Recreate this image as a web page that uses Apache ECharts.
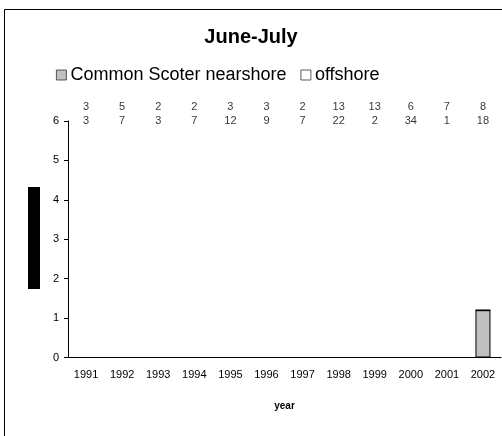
<!DOCTYPE html>
<html><head><meta charset="utf-8">
<script src="https://cdn.jsdelivr.net/npm/echarts@6/dist/echarts.min.js"></script>
<style>html,body{margin:0;padding:0;background:#fff}#c{width:502px;height:436px}</style>
</head><body><div id="c"></div>
<script>
const years = ['1991','1992','1993','1994','1995','1996','1997','1998','1999','2000','2001','2002'];
const nearshore = [0,0,0,0,0,0,0,0,0,0,0,1.2];
const offshore = [0,0,0,0,0,0,0,0,0,0,0,0];
const countsTop = [3,5,2,2,3,3,2,13,13,6,7,8];
const countsBottom = [3,7,3,7,12,9,7,22,2,34,1,18];
const yTicks = [0,1,2,3,4,5,6];

const font = 'Liberation Sans, Arial, sans-serif';
const chart = echarts.init(document.getElementById('c'));
const labelSeries = (arr, yPos) => ({
  type: 'scatter', symbolSize: 0, clip: false, silent: true,
  data: arr.map((v, i) => ({value: [i, yPos], label: {formatter: String(v)}})),
  label: {show: true, position: 'inside', color: '#000', fontSize: 11, fontFamily: font}
});
chart.setOption({
  animation: false,
  textStyle: {fontFamily: font},
  title: {text: 'June-July', left: 'center', top: 22, textStyle: {fontSize: 20, fontWeight: 'bold', color: '#000', fontFamily: font}},
  legend: {
    left: 51, top: 61, itemWidth: 10, itemHeight: 10, itemGap: 14, icon: 'rect',
    data: ['Common Scoter nearshore', 'offshore'],
    itemStyle: {borderWidth: 0.8, borderColor: '#333'},
    textStyle: {fontSize: 18, color: '#000', fontFamily: font, padding: [0,0,0,-1]}
  },
  grid: {left: 68, right: 1, top: 121, bottom: 78.5, containLabel: false},
  xAxis: {
    type: 'category', data: years, boundaryGap: true,
    name: 'year', nameLocation: 'middle', nameGap: 44,
    nameTextStyle: {fontSize: 10, fontWeight: 'bold', color: '#000', fontFamily: font},
    axisLine: {lineStyle: {color: '#000'}},
    axisTick: {alignWithLabel: false, length: 4, lineStyle: {color: '#000'}},
    axisLabel: {color: '#000', fontSize: 11, margin: 12, interval: 0}
  },
  yAxis: {
    type: 'value', min: 0, max: 6, interval: 1,
    axisLine: {show: true, lineStyle: {color: '#000'}},
    axisTick: {show: true, length: 4, lineStyle: {color: '#000'}},
    splitLine: {show: false},
    axisLabel: {color: '#000', fontSize: 11, margin: 9,
      formatter: v => yTicks.includes(v) ? String(v) : ''}
  },
  series: [
    {name: 'Common Scoter nearshore', type: 'bar', stack: 's', data: nearshore, barWidth: 15,
      itemStyle: {color: '#c0c0c0', borderColor: '#000', borderWidth: 1}},
    {name: 'offshore', type: 'bar', stack: 's', data: offshore, barWidth: 15,
      itemStyle: {color: '#ffffff', borderColor: '#000', borderWidth: 1}},
    labelSeries(countsTop, 6.35),
    labelSeries(countsBottom, 6.0)
  ],
  graphic: [
    {type: 'rect', shape: {x: 4.5, y: 9.5, width: 700, height: 700}, style: {fill: 'none', stroke: '#000', lineWidth: 1}, silent: true, z: 100},
    {type: 'rect', shape: {x: 28, y: 187, width: 12, height: 102}, style: {fill: '#000'}, silent: true, z: 100}
  ]
});
</script></body></html>
